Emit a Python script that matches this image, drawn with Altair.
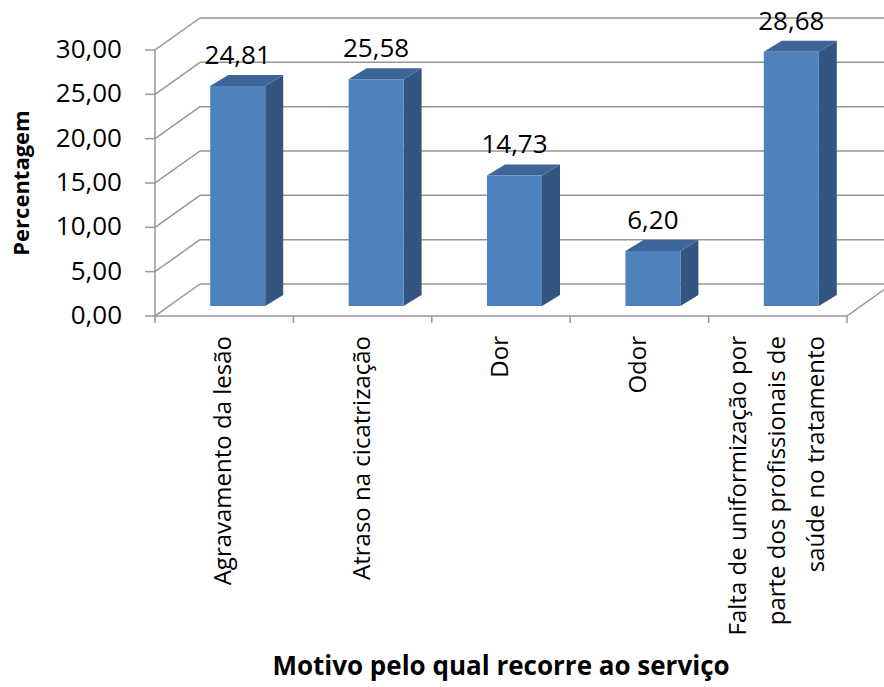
import altair as alt
import pandas as pd

# ---- data ---------------------------------------------------------------
categories = [
    "Agravamento da lesão",
    "Atraso na cicatrização",
    "Dor",
    "Odor",
    "Falta de uniformização por parte dos profissionais de saúde no tratamento",
]
# axis label lines (the long category wraps onto three lines)
label_lines = [
    ["Agravamento da lesão"],
    ["Atraso na cicatrização"],
    ["Dor"],
    ["Odor"],
    ["Falta de uniformização por", "parte dos profissionais de", "saúde no tratamento"],
]
percentages = [24.81, 25.58, 14.73, 6.20, 28.68]
y_ticks = [0, 5, 10, 15, 20, 25, 30]
x_title = "Motivo pelo qual recorre ao serviço"
y_title = "Percentagem"

# ---- layout of the pseudo-3D frame (pixels -> data units) ----------------
PLOT_W, PLOT_H = 729, 316
BAND_PX = 138.4            # width of one category slot
UNIT_PX = 266 / 30         # pixels per percentage point
X_MAX = PLOT_W / BAND_PX
Y_MAX = PLOT_H / UNIT_PX
N = len(categories)
LINE_H = 39                # line height of wrapped tick labels

wall_dx, wall_dy = 45 / BAND_PX, 32 / UNIT_PX      # depth of back wall
bar_dx, bar_dy = 13.5 / BAND_PX, 10 / UNIT_PX      # bars stand inside the box
bar_w = 55 / BAND_PX
side_dx, side_dy = 18 / BAND_PX, 11 / UNIT_PX      # thickness of each column

FONT = "Open Sans"
GRID = "#969696"
FRONT, SIDE, TOP = "#4F81BD", "#34557F", "#3E6597"

# bars (front faces)
bars = pd.DataFrame({"cat": categories, "value": percentages})
bars["x0"] = [i + 0.5 - bar_w / 2 + bar_dx for i in range(N)]
bars["x1"] = bars["x0"] + bar_w
bars["y0"] = bar_dy
bars["y1"] = bars["value"] + bar_dy
bars["xc"] = (bars["x0"] + bars["x1"]) / 2
bars["ytop"] = bars["y1"] + side_dy
bars["label"] = [f"{v:.2f}".replace(".", ",") for v in percentages]

# right-hand side faces and top faces: parallelograms drawn as two-point areas
side_rows, top_rows = [], []
for _, r in bars.iterrows():
    side_rows.append({"cat": r["cat"], "x": r["x1"], "y": r["y1"], "y2": r["y0"]})
    side_rows.append({"cat": r["cat"], "x": r["x1"] + side_dx,
                      "y": r["y1"] + side_dy, "y2": r["y0"] + side_dy})
    top_rows.append({"cat": r["cat"], "y": r["y1"], "x": r["x0"], "x2": r["x1"]})
    top_rows.append({"cat": r["cat"], "y": r["y1"] + side_dy,
                     "x": r["x0"] + side_dx, "x2": r["x1"] + side_dx})
sides = pd.DataFrame(side_rows)
tops = pd.DataFrame(top_rows)

# back wall gridlines, side wall diagonals and floor edge
segs = []
for v in y_ticks:
    segs.append({"x": 0, "y": v, "x2": wall_dx, "y2": v + wall_dy})
    segs.append({"x": wall_dx, "y": v + wall_dy, "x2": N + wall_dx, "y2": v + wall_dy})
segs.append({"x": N, "y": 0, "x2": N + wall_dx, "y2": wall_dy})
grid = pd.DataFrame(segs)

# axis lines and tick marks
axis_segs = [
    {"x": 0, "y": 0, "x2": 0, "y2": max(y_ticks)},
    {"x": 0, "y": 0, "x2": N, "y2": 0},
]
for v in y_ticks:
    axis_segs.append({"x": 0, "y": v, "x2": -10 / BAND_PX, "y2": v})
for k in range(N + 1):
    axis_segs.append({"x": k, "y": 0, "x2": k, "y2": -7 / UNIT_PX})
axis_lines = pd.DataFrame(axis_segs)

# tick labels
y_labels = pd.DataFrame({
    "x": 0.0, "y": y_ticks,
    "t": [f"{v:.2f}".replace(".", ",") for v in y_ticks],
})
# no-break spaces keep the shorter wrapped line centred under the first one
padded = [list(l) for l in label_lines]
padded[4][1] = padded[4][1] + "\u00a0"
padded[4][2] = padded[4][2] + "\u00a0" * 7
x_labels = pd.DataFrame({
    "x": [i + 0.5 - (len(l) - 1) / 2 * LINE_H / BAND_PX for i, l in enumerate(padded)],
    "y": -20 / UNIT_PX,
    "t": padded,
})

xs = alt.Scale(domain=[0, X_MAX], nice=False, zero=False)
ys = alt.Scale(domain=[0, Y_MAX], nice=False, zero=False)


def X(field):
    return alt.X(field, scale=xs, axis=None)


def Y(field):
    return alt.Y(field, scale=ys, axis=None)


grid_layer = alt.Chart(grid).mark_rule(color=GRID, strokeWidth=1.5, clip=True).encode(
    x=X("x:Q"), x2="x2:Q", y=Y("y:Q"), y2="y2:Q",
)
axis_layer = alt.Chart(axis_lines).mark_rule(color=GRID, strokeWidth=1.5).encode(
    x=X("x:Q"), x2="x2:Q", y=Y("y:Q"), y2="y2:Q",
)
front_layer = alt.Chart(bars).mark_rect(color=FRONT).encode(
    x=X("x0:Q"), x2="x1:Q", y=Y("y0:Q"), y2="y1:Q",
)
side_layer = alt.Chart(sides).mark_area(color=SIDE, orient="vertical").encode(
    x=X("x:Q"), y=Y("y:Q"), y2="y2:Q", detail="cat:N",
)
top_layer = alt.Chart(tops).mark_area(color=TOP, orient="horizontal").encode(
    y=Y("y:Q"), x=X("x:Q"), x2="x2:Q", detail="cat:N",
)
value_layer = alt.Chart(bars).mark_text(
    font=FONT, fontSize=26, color="black", baseline="alphabetic", dy=-11
).encode(x=X("xc:Q"), y=Y("ytop:Q"), text="label:N")

y_label_layer = alt.Chart(y_labels).mark_text(
    font=FONT, fontSize=26, color="black", align="right", baseline="middle", dx=-33
).encode(x=X("x:Q"), y=Y("y:Q"), text="t:N")

x_label_layer = alt.Chart(x_labels).mark_text(
    font=FONT, fontSize=24, color="black", align="right", baseline="middle",
    angle=270, lineHeight=LINE_H,
).encode(x=X("x:Q"), y=Y("y:Q"), text="t")

y_title_layer = alt.Chart(pd.DataFrame({"t": [y_title]})).mark_text(
    font=FONT, fontSize=22, fontWeight="bold", color="black",
    align="center", baseline="middle", angle=270,
).encode(x=alt.value(-133), y=alt.value(183), text="t:N")

x_title_layer = alt.Chart(pd.DataFrame({"t": [x_title]})).mark_text(
    font=FONT, fontSize=26, fontWeight="bold", color="black",
    align="center", baseline="middle",
).encode(x=alt.value(346), y=alt.value(667), text="t:N")

chart = alt.layer(
    grid_layer, axis_layer, side_layer, top_layer, front_layer, value_layer,
    y_label_layer, x_label_layer, y_title_layer, x_title_layer,
).properties(
    width=PLOT_W, height=PLOT_H,
    padding={"left": 155, "top": 0, "right": 0, "bottom": 371},
    autosize=alt.AutoSizeParams(type="none"),
    background="white",
).configure_view(stroke=None)

chart.save("out.html", embed_options={"renderer": "svg", "actions": False})
